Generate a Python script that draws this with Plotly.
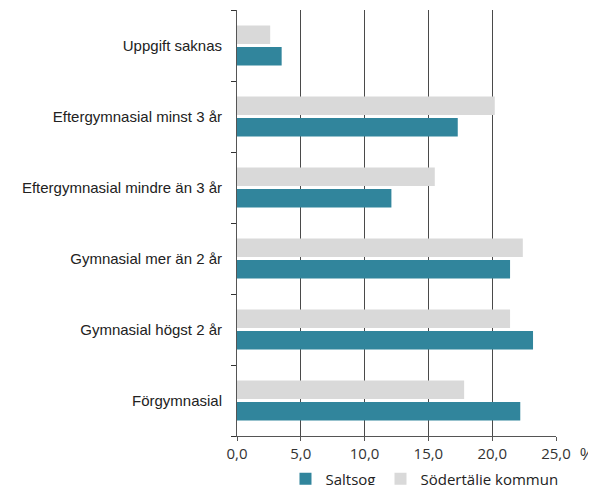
import plotly.graph_objects as go

categories = ["Förgymnasial", "Gymnasial högst 2 år", "Gymnasial mer än 2 år",
              "Eftergymnasial mindre än 3 år", "Eftergymnasial minst 3 år", "Uppgift saknas"]
saltsog = [22.2, 23.2, 21.4, 12.1, 17.3, 3.5]
sodertalje = [17.8, 21.4, 22.4, 15.5, 20.2, 2.6]
tick_vals = [0, 5, 10, 15, 20, 25]
tick_text = ["0,0", "5,0", "10,0", "15,0", "20,0", "25,0"]

fig = go.Figure()
fig.add_trace(go.Bar(y=categories, x=saltsog, name="Saltsog", orientation="h",
                     marker=dict(color="#31859C", line=dict(width=0))))
fig.add_trace(go.Bar(y=categories, x=sodertalje, name="Södertälie kommun", orientation="h",
                     marker=dict(color="#D9D9D9", line=dict(width=0))))

# page body has an 8px default margin, so the figure is sized/offset to compensate
fig.update_layout(
    width=588, height=477,
    margin=dict(l=229, r=40, t=2, b=49, autoexpand=False),
    paper_bgcolor="white", plot_bgcolor="white",
    barmode="group", bargap=0.4, bargroupgap=0.13,
    font=dict(family="Liberation Sans, Arial, sans-serif", size=15, color="#222"),
    showlegend=True,
    legend=dict(orientation="h", x=0.152, xanchor="left", y=-0.062, yanchor="top",
                font=dict(family="Open Sans", size=15, color="#222"),
                traceorder="normal", itemwidth=30),
    xaxis=dict(range=[0, 25], tickvals=tick_vals, ticktext=tick_text,
               showgrid=True, gridcolor="#4a4a4a", gridwidth=1, automargin=False,
               showline=True, linecolor="#555", linewidth=1,
               ticks="outside", ticklen=4, tickcolor="#555",
               tickfont=dict(family="Open Sans", size=15, color="#333"), zeroline=False),
    yaxis=dict(type="category", showline=True, linecolor="#555", linewidth=1,
               ticks="outside", ticklen=5, tickcolor="#333", tickson="boundaries",
               showgrid=False, ticklabelstandoff=11, automargin=False,
               tickfont=dict(size=15, color="#222")),
)
fig.add_annotation(text="%", xref="paper", yref="paper", x=1.0, y=0, xshift=31, yshift=-18,
                   showarrow=False, font=dict(family="Liberation Sans", size=16, color="#333"),
                   xanchor="center", yanchor="middle")
fig.write_html("out.html")
